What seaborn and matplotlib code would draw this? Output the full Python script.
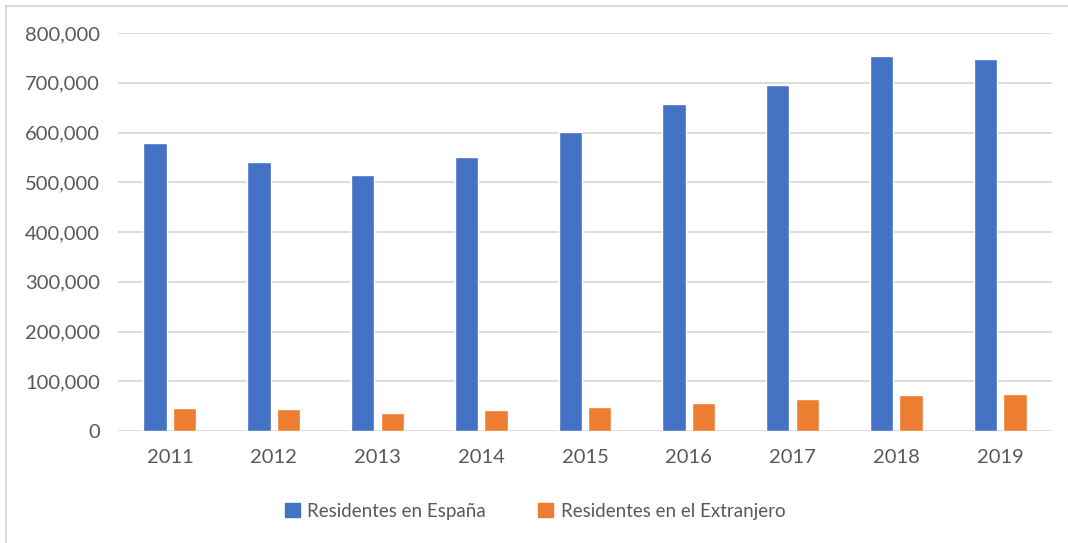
import pandas as pd
import matplotlib.pyplot as plt
import seaborn as sns
from matplotlib.ticker import FuncFormatter
from matplotlib.lines import Line2D

# Data
years = ['2011', '2012', '2013', '2014', '2015', '2016', '2017', '2018', '2019']
espana = [579000, 541000, 515000, 551000, 601000, 657000, 695000, 754000, 748000]
extranjero = [46000, 45000, 36000, 43000, 49000, 57000, 65000, 72000, 75000]
series_names = ['Residentes en España', 'Residentes en el Extranjero']

df = pd.DataFrame({
    'year': years * 2,
    'value': espana + extranjero,
    'serie': [series_names[0]] * len(years) + [series_names[1]] * len(years),
})

sns.set_style('white')
plt.rcParams['font.family'] = ['Lato', 'DejaVu Sans']
text_color = '#595959'
grid_color = '#D9D9D9'

fig = plt.figure(figsize=(10.68, 5.43), dpi=100)
ax = fig.add_axes([118 / 1068, 1 - 431 / 543, (1052 - 118) / 1068, (431 - 33) / 543])

sns.barplot(data=df, x='year', y='value', hue='serie',
            palette=['#4472C4', '#ED7D31'], width=0.57, gap=0.21,
            saturation=1, ax=ax, legend=False)

ax.set_ylim(0, 800000)
ax.set_yticks(range(0, 800001, 100000))
ax.yaxis.set_major_formatter(FuncFormatter(lambda v, p: f'{int(v):,}'))
ax.grid(axis='y', color=grid_color, linewidth=1.3)
ax.set_axisbelow(True)
for s in ax.spines.values():
    s.set_visible(False)
ax.tick_params(axis='both', length=0, labelsize=14.5, colors=text_color)
ax.tick_params(axis='y', pad=13)
ax.tick_params(axis='x', pad=13)
ax.set_xlabel('')
ax.set_ylabel('')

# legend below the plot
handles = [plt.Rectangle((0, 0), 1, 1, color=c) for c in ['#4472C4', '#ED7D31']]
fig.legend(handles, series_names, loc='center', bbox_to_anchor=(535 / 1068, 1 - 511 / 543),
           ncol=2, frameon=False, fontsize=13.5, labelcolor=text_color,
           handlelength=0.8, handleheight=0.8, handletextpad=0.4, columnspacing=2.8)

# chart area border (left and top visible)
fig.add_artist(Line2D([6 / 1068, 6 / 1068], [0, 1 - 6 / 543], color=grid_color, linewidth=1.5,
                      transform=fig.transFigure))
fig.add_artist(Line2D([6 / 1068, 1], [1 - 6 / 543, 1 - 6 / 543], color=grid_color, linewidth=1.5,
                      transform=fig.transFigure))

fig.savefig('out.png', dpi=100)
